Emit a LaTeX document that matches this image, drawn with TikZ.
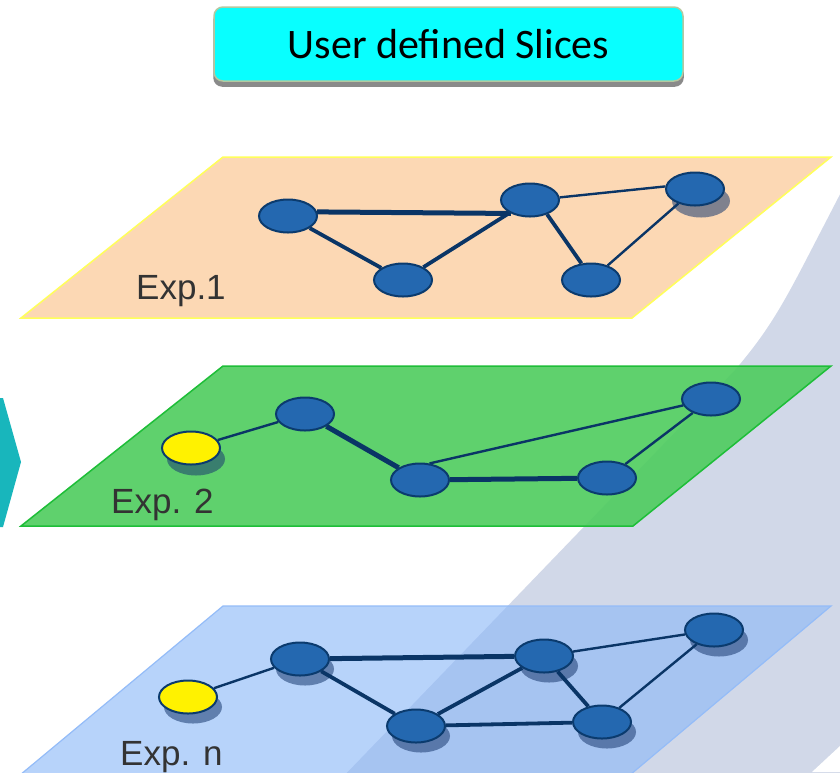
\documentclass[tikz,border=0pt]{standalone}
\usepackage{fontspec}
\setmainfont{Liberation Sans}
\newfontfamily\titlefont{Carlito}
\usetikzlibrary{shapes.geometric}
\pgfdeclarelayer{back}
\pgfdeclarelayer{mid}
\pgfsetlayers{back,mid,main}
\definecolor{bandgray}{HTML}{D1D8E8}
\definecolor{teal}{HTML}{18B6BC}
\definecolor{titlecyan}{HTML}{08FFFF}
\definecolor{titleline}{HTML}{B4C8A0}
\definecolor{titleshadow}{HTML}{8A8A8A}
\definecolor{peach}{HTML}{FCD8B4}
\definecolor{peachline}{HTML}{FFFF5A}
\definecolor{greenplane}{HTML}{4ECC5E}
\definecolor{greenline}{HTML}{1EBE38}
\definecolor{blueplane}{HTML}{8CB8F8}
\definecolor{blueline}{HTML}{94BCF8}
\definecolor{nodefill}{HTML}{2468B0}
\definecolor{nodeline}{HTML}{0B3B6E}
\definecolor{edgecol}{HTML}{0A3566}
\definecolor{shadowc}{HTML}{1A3A70}
\definecolor{labelgray}{HTML}{333333}
\tikzset{
  netnode/.style={ellipse, draw=nodeline, line width=2pt, fill=nodefill,
    minimum width=58pt, minimum height=33pt, inner sep=0pt},
  yellownode/.style={netnode, fill=yellow},
  nodeshadow/.style={ellipse, fill=shadowc, fill opacity=0.55, draw=none,
    minimum width=58pt, minimum height=33pt, inner sep=0pt},
  thickedge/.style={draw=edgecol, line width=5pt},
  midedge/.style={draw=edgecol, line width=3.8pt},
  thinedge/.style={draw=edgecol, line width=2.4pt},
  explabel/.style={anchor=base west, inner sep=0pt, text=labelgray,
    font=\fontsize{35}{40}\selectfont},
  titlebox/.style={draw=titleline, line width=1.5pt, fill=titlecyan,
    rounded corners=9pt, minimum width=469pt, minimum height=74pt,
    font=\titlefont\fontsize{42}{48}\selectfont, text=black}
}
\begin{document}
\begin{tikzpicture}[x=1pt,y=-1pt]
\useasboundingbox (0,0) rectangle (840,772);
\begin{pgfonlayer}{back}
\fill[white] (0,0) rectangle (840,772);
% background band
\fill[bandgray] (850,175) -- (805,262) .. controls (780,310) and (765,335) .. (735,370) -- (340,780) -- (850,780) -- cycle;
\fill[white] (812,772) -- (840,746) -- (840,772) -- cycle;
% teal chevron
\fill[teal] (0,398) -- (3,398) -- (21,462) -- (3,527) -- (0,527) -- cycle;
% planes
\filldraw[fill=peach, draw=peachline, line width=1.5pt] (21,318) -- (632,318) -- (831,157) -- (223,157) -- cycle;
\filldraw[fill=greenplane, fill opacity=0.9, draw=greenline, line width=1.5pt] (21,526) -- (633,526) -- (831,366) -- (223,366) -- cycle;
\filldraw[fill=blueplane, fill opacity=0.62, draw=blueline, line width=1.2pt] (14,780) -- (624,780) -- (831,606) -- (223,606) -- cycle;
\end{pgfonlayer}

% title
\node[titlebox] (title) at (448.5,44) {User defined Slices};
\begin{pgfonlayer}{back}
\fill[titleshadow, rounded corners=9pt] ([yshift=-5pt]title.south west) rectangle ([yshift=-5pt]title.north east);
\end{pgfonlayer}

% plane 1
\node[netnode] (A) at (288,216) {};
\node[netnode] (B) at (403,280) {};
\node[netnode] (C) at (530,200) {};
\node[netnode] (D) at (695,189) {};
\node[netnode] (E) at (591,280) {};
\node[explabel] (L1) at (136,299) {Exp.1};

% plane 2
\node[yellownode] (Y2) at (191,448) {};
\node[netnode] (F) at (305,414) {};
\node[netnode] (G) at (420,480) {};
\node[netnode] (H) at (607,478) {};
\node[netnode] (I) at (711,399) {};
\node[explabel] (L2) at (111,513) {Exp. 2};

% plane 3
\node[yellownode] (Y3) at (188,697) {};
\node[netnode] (J) at (300,659) {};
\node[netnode] (K) at (416,726) {};
\node[netnode] (Lq) at (544,656) {};
\node[netnode] (M) at (602,722) {};
\node[netnode] (N) at (714,630) {};
\node[explabel] (L3) at (120,765) {Exp. n};

\begin{pgfonlayer}{back}
\node[nodeshadow] at ([shift={(6,12)}]D) {};
\node[nodeshadow] at ([shift={(5,11)}]Y2) {};
\foreach \n in {Y3,J,K,Lq,M,N} {\node[nodeshadow] at ([shift={(5,10)}]\n) {};}
\end{pgfonlayer}

\begin{pgfonlayer}{mid}
% plane 1 edges
\draw[thickedge] (A.8) -- (C.215);
\draw[midedge] (A) -- (B);
\draw[midedge] (B) -- (C);
\draw[midedge] (C.-40) -- (E.120);
\draw[thinedge] (C.5) -- (D.175);
\draw[thinedge] (D) -- (E);
% plane 2 edges
\draw[thinedge] (Y2) -- (F);
\draw[thickedge] (F) -- (G);
\draw[thickedge] (G) -- (H);
\draw[thinedge] (G.60) -- (I);
\draw[thinedge] (H) -- (I);
% plane 3 edges
\draw[thinedge] (Y3) -- (J);
\draw[thickedge] (J) -- (Lq);
\draw[midedge] (J) -- (K);
\draw[midedge] (K) -- (Lq);
\draw[midedge] (Lq) -- (M);
\draw[midedge] (K) -- (M);
\draw[thinedge] (Lq) -- (N);
\draw[thinedge] (M) -- (N);
\end{pgfonlayer}
\end{tikzpicture}
\end{document}
